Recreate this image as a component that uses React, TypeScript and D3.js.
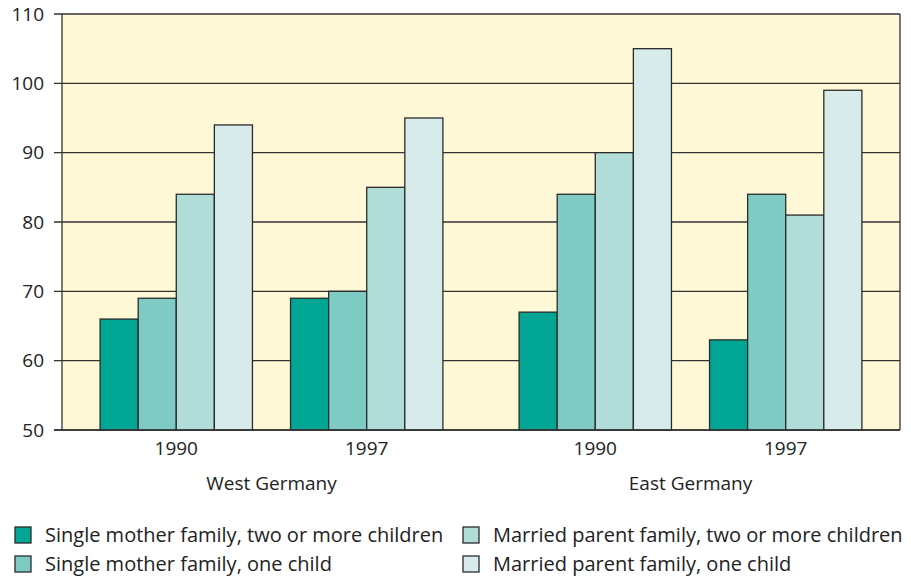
import React, { useEffect, useRef } from 'react';
import * as d3 from 'd3';

const countries = ['West Germany', 'East Germany'];
const years = ['1990', '1997'];
const seriesNames = [
  'Single mother family, two or more children',
  'Single mother family, one child',
  'Married parent family, two or more children',
  'Married parent family, one child',
];
// values per group: West 1990, West 1997, East 1990, East 1997
const singleTwoPlus = [66, 69, 67, 63];
const singleOne = [69, 70, 84, 84];
const marriedTwoPlus = [84, 85, 90, 81];
const marriedOne = [94, 95, 105, 99];
const yTicks = [50, 60, 70, 80, 90, 100, 110];

const colors = ['#00a693', '#7dcbc3', '#b0ddd8', '#d7ecea'];
const FONT = '"Open Sans", sans-serif';

const App: React.FC = () => {
  const svgRef = useRef<SVGSVGElement>(null);

  useEffect(() => {
    if (!svgRef.current) return;
    const svg = d3.select(svgRef.current);
    svg.selectAll('*').remove();

    const left = 62, right = 900, top = 14, bottom = 430;
    const series = [singleTwoPlus, singleOne, marriedTwoPlus, marriedOne];

    // layout in bar-width units: pad 1, group, gap 1, group, gap 2, group, gap 1, group, pad 1
    const groupStarts = [1, 6, 12, 17];
    const u = d3.scaleLinear().domain([0, 22]).range([left, right]);
    const inner = d3.scaleBand<number>().domain([0, 1, 2, 3]).range([0, 4]);
    const y = d3.scaleLinear().domain([50, 110]).range([bottom, top]);

    svg.append('rect')
      .attr('x', left).attr('y', top)
      .attr('width', right - left).attr('height', bottom - top)
      .attr('fill', '#fff8d6');

    svg.append('g')
      .selectAll('line')
      .data(yTicks)
      .enter()
      .append('line')
      .attr('x1', left - 8).attr('x2', right)
      .attr('y1', d => y(d)).attr('y2', d => y(d))
      .attr('stroke', '#333').attr('stroke-width', 1.3);

    svg.append('g')
      .selectAll('text')
      .data(yTicks)
      .enter()
      .append('text')
      .attr('x', 44).attr('y', d => y(d))
      .attr('dy', '0.35em')
      .attr('text-anchor', 'end')
      .style('font-family', FONT).style('font-size', '19px').style('fill', '#222')
      .text(d => d);

    // frame
    svg.append('line').attr('x1', left).attr('x2', left).attr('y1', top).attr('y2', bottom)
      .attr('stroke', '#333').attr('stroke-width', 1.3);
    svg.append('line').attr('x1', right).attr('x2', right).attr('y1', top).attr('y2', bottom)
      .attr('stroke', '#333').attr('stroke-width', 1.3);

    series.forEach((vals, si) => {
      svg.append('g')
        .selectAll('rect')
        .data(vals)
        .enter()
        .append('rect')
        .attr('x', (_, gi) => u(groupStarts[gi] + (inner(si) ?? 0)))
        .attr('width', u(inner.bandwidth()) - u(0))
        .attr('y', d => y(d))
        .attr('height', d => y(50) - y(d))
        .attr('fill', colors[si])
        .attr('stroke', '#2b2b2b').attr('stroke-width', 1.3);
    });

    // baseline on top
    svg.append('line').attr('x1', left - 8).attr('x2', right).attr('y1', bottom).attr('y2', bottom)
      .attr('stroke', '#333').attr('stroke-width', 1.3);

    const groupCenters = groupStarts.map(s => u(s + 2));
    groupCenters.forEach((cx, gi) => {
      svg.append('text')
        .attr('x', cx).attr('y', 455)
        .attr('text-anchor', 'middle')
        .style('font-family', FONT).style('font-size', '19px').style('fill', '#222')
        .text(years[gi % 2]);
    });
    countries.forEach((c, ci) => {
      svg.append('text')
        .attr('x', (groupCenters[ci * 2] + groupCenters[ci * 2 + 1]) / 2).attr('y', 490)
        .attr('text-anchor', 'middle')
        .style('font-family', FONT).style('font-size', '19px').style('fill', '#222')
        .text(c);
    });

    const legendPos = [
      { x: 15, y: 535 }, { x: 15, y: 564 }, { x: 463, y: 535 }, { x: 463, y: 564 },
    ];
    seriesNames.forEach((name, i) => {
      const p = legendPos[i];
      svg.append('rect')
        .attr('x', p.x).attr('y', p.y - 8)
        .attr('width', 16).attr('height', 16)
        .attr('fill', colors[i]).attr('stroke', '#2b2b2b').attr('stroke-width', 1.3);
      svg.append('text')
        .attr('x', p.x + 30).attr('y', p.y)
        .attr('dy', '0.35em')
        .style('font-family', FONT).style('font-size', '20px').style('fill', '#222')
        .text(name);
    });
  }, []);

  return <svg ref={svgRef} width={911} height={578} style={{ display: 'block', position: 'absolute', left: 0, top: 0 }} />;
};

export default App;
